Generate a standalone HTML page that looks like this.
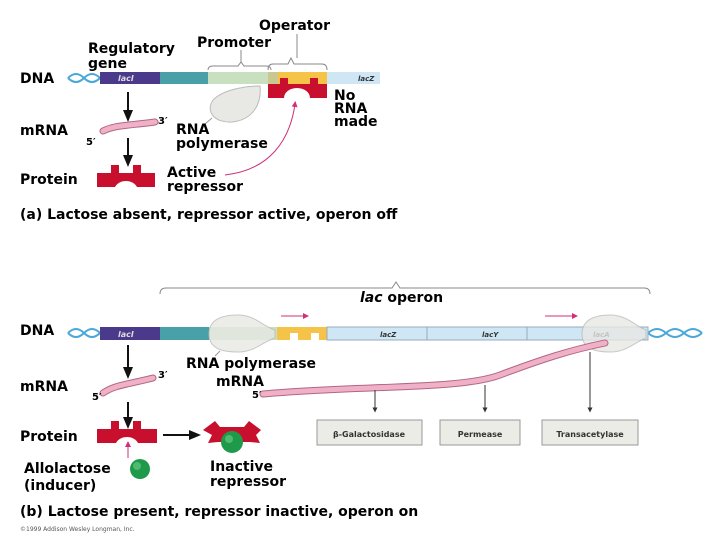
<!DOCTYPE html>
<html><head><style>
body{margin:0;background:#fff;}
svg{display:block;font-family:"DejaVu Sans","Liberation Sans",sans-serif;font-weight:bold;}
</style></head><body>
<svg width="720" height="540" viewBox="0 0 720 540" xmlns="http://www.w3.org/2000/svg">
<defs>
<marker id="ah" markerUnits="userSpaceOnUse" markerWidth="12" markerHeight="12" refX="6" refY="6" orient="auto"><path d="M0,1 L12,6 L0,11 z" fill="#111"/></marker>
<marker id="ahp" markerUnits="userSpaceOnUse" markerWidth="6" markerHeight="6" refX="3" refY="3" orient="auto"><path d="M0,0 L6,3 L0,6 z" fill="#d0307a"/></marker>
<marker id="ahs" markerUnits="userSpaceOnUse" markerWidth="5" markerHeight="5" refX="2.5" refY="2.5" orient="auto"><path d="M0,0 L5,2.5 L0,5 z" fill="#333"/></marker>
</defs>
<!-- ===== Part (a) ===== -->
<text x="20" y="83" font-size="14">DNA</text>
<text x="88" y="53" font-size="14">Regulatory</text>
<text x="88" y="68" font-size="14">gene</text>
<text x="197" y="47" font-size="14">Promoter</text>
<text x="259" y="30" font-size="14">Operator</text>
<path d="M68,78 q8,-8 16,0 t16,0 M68,78 q8,8 16,0 t16,0" stroke="#4aa8d8" stroke-width="2" fill="none"/>
<rect x="100" y="72" width="60" height="12" fill="#4b3a8c"/>
<text x="118" y="81" font-size="8" fill="#ddd" font-style="italic">lacI</text>
<rect x="160" y="72" width="48" height="12" fill="#4aa0a8"/>
<rect x="208" y="72" width="60" height="12" fill="#c8dfc0"/>
<rect x="268" y="72" width="10" height="12" fill="#c8c890"/>
<rect x="278" y="72" width="49" height="12" fill="#f5c348"/>
<rect x="327" y="72" width="53" height="12" fill="#cfe6f5"/>
<text x="358" y="81" font-size="7" font-style="italic" fill="#333">lacZ</text>
<path d="M208,70 q0,-4 5,-4 h25 l3,-4 l3,4 h22 q5,0 5,4" stroke="#888" fill="none"/>
<path d="M268,70 q0,-6 5,-6 h15 l3,-6 l3,6 h28 q5,0 5,6" stroke="#888" fill="none"/>
<line x1="241" y1="62" x2="241" y2="50" stroke="#888"/>
<line x1="297" y1="58" x2="297" y2="34" stroke="#888"/>
<path d="M268,84 h12 v-6 h8 v6 h22 v-6 h8 v6 h9 v14 h-17 a13,10 0 0 0 -26,0 h-16z" fill="#c8102e"/>
<path d="M260,86 C250,86 225,88 213,100 C205,112 215,123 232,122 C252,120 262,105 260,86z" fill="#e8e8e4" stroke="#bbb"/>
<line x1="212" y1="118" x2="205" y2="124" stroke="#999"/>
<text x="334" y="100" font-size="14">No</text>
<text x="334" y="113" font-size="14">RNA</text>
<text x="334" y="126" font-size="14">made</text>
<line x1="128" y1="92" x2="128" y2="116" stroke="#111" stroke-width="2" marker-end="url(#ah)"/>
<text x="20" y="135" font-size="14">mRNA</text>
<path d="M103,131 C115,125 125,126 155,122" stroke="#b06880" stroke-width="7" fill="none" stroke-linecap="round"/>
<path d="M103,131 C115,125 125,126 155,122" stroke="#f0b0c8" stroke-width="5" fill="none" stroke-linecap="round"/>
<text x="86" y="145" font-size="10">5′</text>
<text x="158" y="124" font-size="10">3′</text>
<line x1="128" y1="138" x2="128" y2="161" stroke="#111" stroke-width="2" marker-end="url(#ah)"/>
<text x="20" y="184" font-size="14">Protein</text>
<path d="M97,173 h14 v-8 h8 v8 h14 v-8 h8 v8 h14 v14 h-18 a12,10 0 0 0 -22,0 h-18z" fill="#c8102e"/>
<text x="167" y="177" font-size="14">Active</text>
<text x="167" y="191" font-size="14">repressor</text>
<text x="176" y="134" font-size="14">RNA</text>
<text x="176" y="148" font-size="14">polymerase</text>
<path d="M225,175 C270,170 290,140 295,104" stroke="#d0307a" stroke-width="1" fill="none" marker-end="url(#ahp)"/>
<text x="20" y="219" font-size="14">(a) Lactose absent, repressor active, operon off</text>
<!-- ===== Part (b) ===== -->
<path d="M160,294 q0,-6 6,-6 h226 l4,-6 l4,6 h244 q6,0 6,6" stroke="#888" fill="none"/>
<text x="360" y="302" font-size="14"><tspan font-style="italic">lac</tspan> operon</text>
<text x="20" y="335" font-size="14">DNA</text>
<path d="M68,333 q8,-8 16,0 t16,0 M68,333 q8,8 16,0 t16,0" stroke="#4aa8d8" stroke-width="2" fill="none"/>
<path d="M648,333 q9,-8 18,0 t18,0 t18,0 M648,333 q9,8 18,0 t18,0 t18,0" stroke="#4aa8d8" stroke-width="2" fill="none"/>
<rect x="100" y="327" width="60" height="13" fill="#4b3a8c"/>
<text x="118" y="337" font-size="8" fill="#ddd" font-style="italic">lacI</text>
<rect x="160" y="327" width="49" height="13" fill="#4aa0a8"/>
<rect x="209" y="327" width="68" height="13" fill="#c8dfc0"/>
<rect x="277" y="327" width="50" height="13" fill="#fff"/>
<path d="M277,327 h50 v13 h-8 v-7 h-8 v7 h-13 v-7 h-8 v7 h-13z" fill="#f5c348"/>
<rect x="327" y="327" width="321" height="13" fill="#cfe6f5" stroke="#9ab"/>
<line x1="427" y1="327" x2="427" y2="340" stroke="#9ab"/>
<line x1="527" y1="327" x2="527" y2="340" stroke="#9ab"/>
<text x="380" y="337" font-size="7" font-style="italic" fill="#333">lacZ</text>
<text x="482" y="337" font-size="7" font-style="italic" fill="#333">lacY</text>
<text x="593" y="337" font-size="7" font-style="italic" fill="#333">lacA</text>
<path d="M209,334 C209,318 225,315 238,315 C255,315 262,326 275,330 L275,338 C262,342 255,352 238,352 C225,352 209,350 209,334z" fill="#e8e8e4" stroke="#bbb" opacity="0.8"/>
<path d="M582,334 C582,318 598,315 610,315 C627,315 635,326 646,330 L646,338 C635,342 627,352 610,352 C598,352 582,350 582,334z" fill="#e8e8e4" stroke="#bbb" opacity="0.8"/>
<line x1="281" y1="316" x2="306" y2="316" stroke="#d0307a" marker-end="url(#ahp)"/>
<line x1="545" y1="316" x2="575" y2="316" stroke="#d0307a" marker-end="url(#ahp)"/>
<line x1="220" y1="351" x2="215" y2="356" stroke="#999"/>
<text x="186" y="368" font-size="14">RNA polymerase</text>
<line x1="128" y1="345" x2="128" y2="373" stroke="#111" stroke-width="2" marker-end="url(#ah)"/>
<text x="20" y="391" font-size="14">mRNA</text>
<path d="M103,393 C115,385 125,385 153,378" stroke="#b06880" stroke-width="7" fill="none" stroke-linecap="round"/>
<path d="M103,393 C115,385 125,385 153,378" stroke="#f0b0c8" stroke-width="5" fill="none" stroke-linecap="round"/>
<text x="92" y="400" font-size="10">5′</text>
<text x="158" y="378" font-size="10">3′</text>
<text x="216" y="386" font-size="14">mRNA</text>
<text x="252" y="398" font-size="10">5′</text>
<path d="M263,394 C360,385 460,390 500,375 C540,360 570,350 605,343" stroke="#b06880" stroke-width="7" fill="none" stroke-linecap="round"/>
<path d="M263,394 C360,385 460,390 500,375 C540,360 570,350 605,343" stroke="#f0b0c8" stroke-width="5" fill="none" stroke-linecap="round"/>
<line x1="128" y1="402" x2="128" y2="423" stroke="#111" stroke-width="2" marker-end="url(#ah)"/>
<text x="20" y="441" font-size="14">Protein</text>
<path d="M97,429 h14 v-8 h8 v8 h14 v-8 h8 v8 h16 v14 h-19 a12,10 0 0 0 -22,0 h-19z" fill="#c8102e"/>
<line x1="163" y1="435" x2="195" y2="435" stroke="#111" stroke-width="2" marker-end="url(#ah)"/>
<path d="M203,430 l12,-9 l5,6 h24 l5,-6 l12,9 l-5,5 l4,8 l-10,-1 h-32 l-10,1 l4,-8z" fill="#c8102e"/>
<circle cx="232" cy="442" r="11" fill="#1f9a4a"/>
<circle cx="229" cy="439" r="4" fill="#6fd08a" opacity="0.6"/>
<circle cx="140" cy="469" r="10" fill="#1f9a4a"/>
<circle cx="137" cy="466" r="4" fill="#6fd08a" opacity="0.6"/>
<line x1="128" y1="458" x2="128" y2="444" stroke="#d0307a" marker-end="url(#ahp)"/>
<text x="24" y="473" font-size="14">Allolactose</text>
<text x="24" y="490" font-size="14">(inducer)</text>
<text x="210" y="471" font-size="14">Inactive</text>
<text x="210" y="486" font-size="14">repressor</text>
<line x1="375" y1="390" x2="375" y2="410" stroke="#333" marker-end="url(#ahs)"/>
<line x1="485" y1="385" x2="485" y2="410" stroke="#333" marker-end="url(#ahs)"/>
<line x1="590" y1="352" x2="590" y2="410" stroke="#333" marker-end="url(#ahs)"/>
<rect x="317" y="420" width="105" height="25" fill="#ececE6" stroke="#999"/>
<rect x="440" y="420" width="80" height="25" fill="#ececE6" stroke="#999"/>
<rect x="542" y="420" width="96" height="25" fill="#ececE6" stroke="#999"/>
<text x="369" y="437" font-size="8" text-anchor="middle" fill="#333">β-Galactosidase</text>
<text x="480" y="437" font-size="8" text-anchor="middle" fill="#333">Permease</text>
<text x="590" y="437" font-size="8" text-anchor="middle" fill="#333">Transacetylase</text>
<text x="20" y="516" font-size="14">(b) Lactose present, repressor inactive, operon on</text>
<text x="20" y="531" font-size="6" font-weight="normal" fill="#555">©1999 Addison Wesley Longman, Inc.</text>
</svg>
</body></html>
